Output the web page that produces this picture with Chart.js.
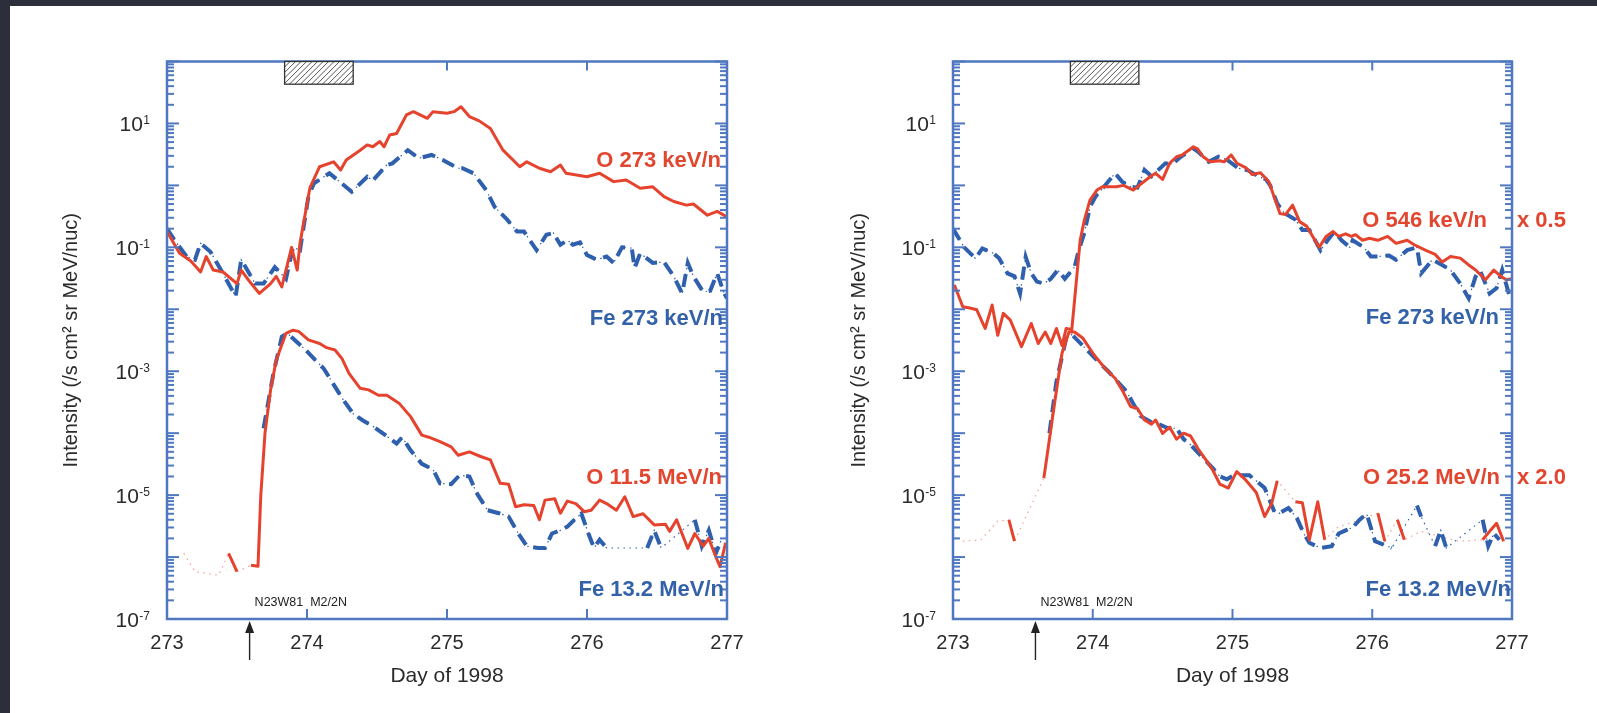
<!DOCTYPE html>
<html><head><meta charset="utf-8">
<script src="https://cdn.jsdelivr.net/npm/chart.js@4.4.1/dist/chart.umd.min.js"></script>
<style>
html,body{margin:0;padding:0;background:#fff;}
body{width:1597px;height:713px;position:relative;overflow:hidden;}
#bandTop{position:absolute;left:0;top:0;width:1597px;height:6px;background:#2c2e3c;}
#bandLeft{position:absolute;left:0;top:0;width:10px;height:713px;background:#2c2e3c;}
#c1{position:absolute;left:0;top:0;}
#c2{position:absolute;left:790px;top:0;}
</style></head>
<body>
<div id="bandTop"></div><div id="bandLeft"></div>
<canvas id="c1" width="790" height="713"></canvas>
<canvas id="c2" width="807" height="713"></canvas>
<script>
// ---------- data ----------
const xTickDays = [273, 274, 275, 276, 277];
const yLabelExps = [1, -1, -3, -5, -7];

// Left panel
const oKeVLeftDays = [273.00,273.09,273.17,273.24,273.28,273.33,273.40,273.50,273.53,273.59,273.66,273.74,273.78,273.82,273.89,273.93,273.95,274.02,274.09,274.19,274.24,274.28,274.38,274.43,274.47,274.52,274.55,274.59,274.64,274.71,274.76,274.86,274.90,275.00,275.05,275.10,275.16,275.23,275.31,275.40,275.52,275.57,275.66,275.74,275.81,275.85,276.00,276.09,276.19,276.28,276.38,276.47,276.55,276.62,276.71,276.76,276.86,276.93,277.00];
const oKeVLeftVals = [0.18,0.08,0.06,0.040,0.071,0.043,0.040,0.026,0.043,0.028,0.018,0.026,0.034,0.023,0.10,0.043,0.116,0.90,2.0,2.4,1.77,2.57,3.7,4.5,4.2,5.1,4.2,6.5,6.9,13.7,15.5,12.1,15.5,14.6,15.5,18.6,12.9,11.0,8.3,3.7,2.0,2.4,1.89,1.66,2.13,1.57,1.38,1.57,1.15,1.22,0.90,0.95,0.66,0.55,0.48,0.50,0.33,0.38,0.31];

const feKeVLeftDays = [273.00,273.07,273.14,273.20,273.24,273.31,273.40,273.49,273.53,273.63,273.69,273.77,273.85,273.90,273.95,274.01,274.05,274.16,274.32,274.43,274.47,274.57,274.61,274.72,274.80,274.89,274.97,275.08,275.11,275.19,275.28,275.34,275.43,275.50,275.55,275.64,275.71,275.76,275.81,275.86,275.90,275.95,276.00,276.07,276.14,276.19,276.25,276.32,276.34,276.38,276.47,276.55,276.62,276.68,276.72,276.76,276.83,276.88,276.93,276.98,277.00];
const feKeVLeftVals = [0.20,0.116,0.071,0.063,0.116,0.085,0.038,0.016,0.063,0.026,0.026,0.048,0.031,0.10,0.090,0.66,1.08,1.57,0.79,1.38,1.2,2.13,2.27,3.7,2.75,3.1,2.57,1.89,1.89,1.57,0.84,0.45,0.28,0.18,0.18,0.090,0.16,0.17,0.11,0.13,0.11,0.12,0.075,0.063,0.071,0.056,0.10,0.097,0.046,0.08,0.056,0.058,0.034,0.018,0.056,0.034,0.019,0.02,0.038,0.018,0.015];

const oMeVLeftDays = [273.44,273.50,273.55,273.60,273.65,273.67,273.70,273.74,273.78,273.85,273.90,273.94,274.01,274.09,274.14,274.20,274.25,274.30,274.38,274.44,274.51,274.57,274.66,274.74,274.82,274.87,274.95,275.03,275.08,275.16,275.24,275.31,275.38,275.44,275.49,275.55,275.62,275.66,275.70,275.77,275.81,275.86,275.92,275.98,276.03,276.09,276.14,276.21,276.27,276.33,276.40,276.48,276.56,276.59,276.64,276.72,276.77,276.83,276.87,276.91,276.95,276.99];
const oMeVLeftVals = [1.15e-6,5.8e-7,null,7.4e-7,7.1e-7,1.0e-5,1.0e-4,5.0e-4,1.5e-3,4.1e-3,4.6e-3,4.4e-3,3.2e-3,2.8e-3,2.4e-3,2.2e-3,1.6e-3,9.2e-4,5.3e-4,5.0e-4,4.1e-4,4.1e-4,3.0e-4,1.85e-4,9.3e-5,8.6e-5,7.3e-5,6.0e-5,4.4e-5,5.0e-5,4.2e-5,3.7e-5,1.55e-5,1.5e-5,6.5e-6,7.0e-6,6.8e-6,4.0e-6,8.3e-6,8.7e-6,5.1e-6,8.0e-6,7.3e-6,5.4e-6,5.7e-6,8.3e-6,7.3e-6,5.7e-6,9.4e-6,4.5e-6,5.0e-6,3.3e-6,3.4e-6,2.6e-6,4.0e-6,1.38e-6,2.4e-6,1.5e-6,2.0e-6,1.15e-6,7.0e-7,1.7e-6];
const oMeVLeftFaintDays = [273.12, 273.20, 273.37];
const oMeVLeftFaintVals = [1.15e-6, 5.8e-7, 5.1e-7];

const feMeVLeftDays = [273.69,273.76,273.82,273.86,273.99,274.12,274.25,274.33,274.40,274.48,274.56,274.64,274.68,274.74,274.82,274.90,274.95,275.03,275.09,275.16,275.21,275.29,275.37,275.44,275.51,275.57,275.65,275.70,275.75,275.81,275.86,275.91,275.96,276.01,276.05,276.09,276.14,276.30,276.43,276.48,276.53,276.65,276.77,276.82,276.87,276.92,276.96];
const feMeVLeftVals = [1.2e-4,9.2e-4,3.6e-3,4.1e-3,2.2e-3,1.1e-3,3.7e-4,2.05e-4,1.6e-4,1.25e-4,9.3e-5,6.8e-5,8.6e-5,5.3e-5,3.2e-5,2.6e-5,1.55e-5,1.5e-5,2.1e-5,2.0e-5,1.1e-5,5.7e-6,5.1e-6,4.5e-6,2.4e-6,1.5e-6,1.4e-6,1.4e-6,2.4e-6,2.7e-6,3.1e-6,4.0e-6,5.0e-6,2.4e-6,1.4e-6,1.9e-6,1.4e-6,null,1.4e-6,2.7e-6,1.4e-6,null,4.0e-6,1.5e-6,2.7e-6,1.15e-6,1.9e-6];

// Right panel
const oKeVRightDays = [273.01,273.07,273.12,273.17,273.23,273.28,273.32,273.36,273.41,273.49,273.56,273.61,273.66,273.70,273.74,273.78,273.81,273.85,273.87,273.91,273.94,273.98,274.03,274.07,274.17,274.22,274.29,274.41,274.45,274.50,274.55,274.60,274.64,274.72,274.75,274.79,274.84,274.91,274.94,274.99,275.03,275.10,275.14,275.20,275.26,275.34,275.38,275.43,275.48,275.53,275.59,275.62,275.67,275.72,275.76,275.81,275.85,275.88,275.93,275.98,276.04,276.11,276.17,276.25,276.30,276.38,276.45,276.50,276.56,276.63,276.69,276.74,276.81,276.87,276.92,276.96,277.00];
const oKeVRightVals = [0.0247,0.011,0.0105,0.0098,0.0049,0.0117,0.0038,0.0086,0.0067,0.0025,0.0059,0.0028,0.0043,0.0028,0.0049,0.0026,0.0049,0.0047,0.014,0.13,0.275,0.58,0.84,0.95,0.95,1.0,0.84,1.38,1.57,1.25,2.27,2.9,3.1,4.2,3.9,2.9,2.4,2.5,2.4,3.1,2.3,1.9,1.5,1.6,1.15,0.35,0.34,0.48,0.26,0.22,0.13,0.10,0.15,0.18,0.15,0.165,0.15,0.16,0.13,0.14,0.13,0.15,0.116,0.13,0.11,0.09,0.077,0.058,0.071,0.067,0.052,0.043,0.030,0.043,0.034,0.030,0.031];

const feKeVRightDays = [273.00,273.02,273.08,273.16,273.21,273.29,273.33,273.39,273.44,273.48,273.52,273.56,273.60,273.65,273.70,273.75,273.80,273.87,273.90,273.94,273.98,274.02,274.06,274.16,274.21,274.27,274.32,274.37,274.42,274.52,274.57,274.63,274.72,274.76,274.83,274.90,274.96,275.04,275.11,275.19,275.24,275.27,275.32,275.37,275.45,275.50,275.55,275.63,275.68,275.73,275.78,275.84,275.86,275.94,275.99,276.04,276.12,276.17,276.25,276.32,276.35,276.43,276.50,276.56,276.63,276.69,276.74,276.77,276.84,276.89,276.93,276.98];
const feKeVRightVals = [0.2,0.168,0.10,0.0665,0.096,0.08,0.0665,0.038,0.034,0.018,0.07,0.038,0.028,0.026,0.031,0.043,0.031,0.048,0.09,0.17,0.45,0.66,0.84,1.57,1.15,0.95,0.92,1.77,1.4,2.27,2.2,2.9,3.96,3.4,2.4,2.9,2.6,1.9,1.75,1.38,1.25,1.0,0.51,0.36,0.28,0.19,0.19,0.09,0.13,0.18,0.13,0.10,0.13,0.10,0.071,0.071,0.074,0.063,0.09,0.10,0.038,0.063,0.052,0.043,0.026,0.015,0.034,0.043,0.018,0.022,0.043,0.017];

const oMeVRightDays = [273.40,273.44,273.55,273.65,273.73,273.78,273.83,273.87,273.93,274.01,274.09,274.16,274.21,274.27,274.32,274.37,274.42,274.45,274.50,274.55,274.60,274.65,274.70,274.76,274.81,274.86,274.91,274.97,275.03,275.09,275.17,275.23,275.28,275.32,275.38,275.45,275.50,275.55,275.61,275.66,275.85,276.04,276.09,276.14,276.18,276.23,276.50,276.79,276.84,276.89,276.94];
const oMeVRightVals = [4.0e-6,1.8e-6,null,1.87e-5,3.4e-4,1.95e-3,4.3e-3,4.3e-3,3.4e-3,1.83e-3,1.1e-3,7.7e-4,5.0e-4,2.7e-4,2.5e-4,1.63e-4,1.4e-4,1.63e-4,9.9e-5,1.25e-4,8.0e-5,1.0e-4,9.0e-5,5.3e-5,3.7e-5,2.5e-5,1.5e-5,1.3e-5,2.4e-5,1.8e-5,1.1e-5,4.5e-6,7.3e-6,1.7e-5,null,7.8e-6,7.5e-6,1.9e-6,7.8e-6,1.9e-6,null,5.1e-6,1.8e-6,null,4.0e-6,1.9e-6,null,1.9e-6,2.6e-6,3.5e-6,1.8e-6];
const oMeVRightFaintDays = [273.07, 273.20, 273.32, 275.75, 276.35, 276.62];
const oMeVRightFaintVals = [1.8e-6, 1.9e-6, 3.8e-6, 3.0e-6, 2.6e-6, 1.8e-6];

const feMeVRightDays = [273.69,273.74,273.81,273.85,273.96,274.03,274.11,274.19,274.24,274.29,274.34,274.42,274.47,274.54,274.60,274.65,274.70,274.78,274.86,274.91,274.96,275.01,275.12,275.17,275.23,275.30,275.33,275.40,275.46,275.51,275.55,275.63,275.71,275.76,275.81,275.86,275.91,275.96,276.02,276.11,276.14,276.25,276.32,276.35,276.40,276.45,276.49,276.53,276.65,276.79,276.83,276.87,276.91];
const feMeVRightVals = [1.0e-4,6.8e-4,3.4e-3,3.9e-3,2.2e-3,1.5e-3,1.0e-3,6.3e-4,4.8e-4,3.0e-4,1.9e-4,1.5e-4,1.4e-4,1.2e-4,1.2e-4,8.0e-5,6.5e-5,4.2e-5,2.7e-5,2.0e-5,1.8e-5,2.1e-5,2.1e-5,1.7e-5,1.3e-5,5.4e-6,5.0e-6,6.2e-6,4.3e-6,2.4e-6,1.7e-6,1.4e-6,1.5e-6,2.4e-6,2.7e-6,3.0e-6,4.0e-6,5.0e-6,1.8e-6,1.5e-6,1.4e-6,null,6.8e-6,4.5e-6,null,1.5e-6,2.7e-6,1.4e-6,null,4.0e-6,1.5e-6,2.4e-6,1.9e-6];

// Annotations
const leftLabelTexts = ['O 273 keV/n', 'Fe 273 keV/n', 'O 11.5 MeV/n', 'Fe 13.2 MeV/n'];
const leftLabelValues = [2.48, 7.0e-3, 1.9e-5, 2.95e-7];
const rightLabelTexts = ['O 546 keV/n', 'Fe 273 keV/n', 'O 25.2 MeV/n', 'Fe 13.2 MeV/n'];
const rightLabelValues = [0.266, 7.2e-3, 1.9e-5, 2.95e-7];
const rightFactorTexts = ['x 0.5', '', 'x 2.0', ''];
const hatchDays = [273.84, 274.33];
const hatchBottomValue = 43;
const eventDay = 273.59;
const eventText = 'N23W81  M2/2N';

// ---------- styling ----------
const FONT = "'Liberation Sans', Arial, Helvetica, sans-serif";
const RED = '#e5432d', BLUE = '#2f60ad', AXIS = '#4f78c0', TEXT = '#2b2b2b';
const LABEL_RED = '#e2462f', LABEL_BLUE = '#3462a9';

function pts(days, vals) { return days.map((d, i) => ({ x: d, y: vals[i] })); }
function thinPts(days, vals, fd, fv) {
  const p = pts(days, vals).filter(q => q.y !== null);
  if (fd) fd.forEach((d, i) => p.push({ x: d, y: fv[i] }));
  return p.sort((a, b) => a.x - b.x);
}
function solidSet(data) { return { data, borderColor: RED, borderWidth: 3, spanGaps: false, order: 0, borderJoinStyle: 'round' }; }
function dashSet(data) { return { data, borderColor: BLUE, borderWidth: 4, borderDash: [13, 8], spanGaps: false, order: 1 }; }
function faintSet(data, color) { return { data, borderColor: color, borderWidth: 1.2, borderDash: [1.5, 4.5], spanGaps: true, order: 2 }; }

const decor = {
  id: 'decor',
  afterDraw(chart, args, o) {
    const { ctx, chartArea: a, scales: { x, y } } = chart;
    ctx.save();
    const seg = (x1, y1, x2, y2) => { ctx.beginPath(); ctx.moveTo(x1, y1); ctx.lineTo(x2, y2); ctx.stroke(); };

    // frame
    ctx.strokeStyle = AXIS; ctx.lineWidth = 2.5;
    ctx.strokeRect(a.left, a.top, a.right - a.left, a.bottom - a.top);
    // inward ticks
    ctx.lineWidth = 2;
    for (const t of y.ticks) {
      const py = y.getPixelForValue(t.value);
      const len = t.major ? 12 : 7;
      seg(a.left, py, a.left + len, py);
      seg(a.right, py, a.right - len, py);
    }
    for (const d of xTickDays) {
      if (d <= x.min || d >= x.max) continue;
      const px = x.getPixelForValue(d);
      seg(px, a.top, px, a.top + 9);
      seg(px, a.bottom, px, a.bottom - 10);
    }

    // hatched box (covers the top tick)
    const hx1 = x.getPixelForValue(hatchDays[0]), hx2 = x.getPixelForValue(hatchDays[1]);
    const hy1 = a.top, hy2 = y.getPixelForValue(hatchBottomValue);
    const hh = hy2 - hy1;
    ctx.fillStyle = '#fff'; ctx.fillRect(hx1, hy1, hx2 - hx1, hh);
    ctx.save(); ctx.beginPath(); ctx.rect(hx1, hy1, hx2 - hx1, hh); ctx.clip();
    ctx.strokeStyle = '#555'; ctx.lineWidth = 1;
    for (let k = hx1 - hh; k < hx2 + 6; k += 5.5) seg(k, hy2, k + hh, hy1);
    ctx.restore();
    ctx.strokeStyle = '#333'; ctx.lineWidth = 1.3; ctx.strokeRect(hx1, hy1, hx2 - hx1, hh);

    // y labels with superscript exponent
    ctx.fillStyle = TEXT;
    for (const e of yLabelExps) {
      const py = y.getPixelForValue(Math.pow(10, e));
      const xr = a.left - 17;
      ctx.font = '12px ' + FONT;
      const es = String(e); const ew = ctx.measureText(es).width;
      ctx.textAlign = 'left'; ctx.textBaseline = 'alphabetic';
      ctx.fillText(es, xr - ew, py + 1);
      ctx.font = '21px ' + FONT; ctx.textAlign = 'right';
      ctx.fillText('10', xr - ew - 0.5, py + 7.5);
    }
    // series labels
    ctx.font = 'bold 22px ' + FONT; ctx.textBaseline = 'middle';
    o.texts.forEach((t, i) => {
      ctx.fillStyle = i % 2 === 0 ? LABEL_RED : LABEL_BLUE;
      ctx.textAlign = 'right';
      ctx.fillText(t, a.right + o.dx[i], y.getPixelForValue(o.values[i]));
      if (o.factors && o.factors[i]) {
        ctx.textAlign = 'left';
        ctx.fillText(o.factors[i], a.right + 5, y.getPixelForValue(o.values[i]));
      }
    });
    // event marker
    const ex = x.getPixelForValue(eventDay);
    ctx.fillStyle = '#222'; ctx.font = '12.5px ' + FONT; ctx.textAlign = 'left'; ctx.textBaseline = 'alphabetic';
    ctx.fillText(eventText, ex + 5, a.bottom - 13);
    ctx.strokeStyle = '#222'; ctx.lineWidth = 1.4;
    seg(ex, a.bottom + 10, ex, a.bottom + 41);
    ctx.beginPath(); ctx.moveTo(ex, a.bottom + 2); ctx.lineTo(ex - 4.5, a.bottom + 14); ctx.lineTo(ex + 4.5, a.bottom + 14); ctx.closePath(); ctx.fill();
    ctx.restore();
  }
};

function makeChart(id, datasets, g, decorOpts) {
  return new Chart(document.getElementById(id), {
    type: 'line',
    data: { datasets },
    plugins: [decor],
    options: {
      responsive: false, animation: false, events: [],
      layout: { padding: { left: 0, right: g.padRight, top: 61.5, bottom: 0 } },
      elements: { point: { radius: 0 }, line: { tension: 0 } },
      plugins: { legend: { display: false }, tooltip: { enabled: false }, decor: decorOpts },
      scales: {
        x: {
          type: 'linear', min: 273, max: 277,
          afterBuildTicks: s => { s.ticks = xTickDays.map(v => ({ value: v })); },
          ticks: { color: TEXT, font: { family: FONT, size: 20 }, padding: 12, maxRotation: 0, autoSkip: false,
                   callback: v => String(v) },
          grid: { display: false, drawTicks: false },
          border: { display: false },
          title: { display: true, text: 'Day of 1998', color: TEXT, font: { family: FONT, size: 21 }, padding: { top: 0, bottom: 24 } },
          afterFit: s => { s.height = 94; s.paddingLeft = 0; s.paddingRight = 0; }
        },
        y: {
          type: 'logarithmic', min: 1e-7, max: 1e2,
          afterBuildTicks: s => {
            const t = [];
            for (let e = -7; e <= 2; e++) for (let m = 1; m <= 9; m++) {
              const v = m * Math.pow(10, e);
              if (v <= 100.0001) t.push({ value: v, major: m === 1 });
            }
            s.ticks = t;
          },
          ticks: { display: false },
          grid: { display: false, drawTicks: false },
          border: { display: false },
          title: { display: true, text: 'Intensity (/s cm² sr MeV/nuc)', color: TEXT, font: { family: FONT, size: 20 }, padding: { top: g.titlePad, bottom: 0 } },
          afterFit: s => { s.width = g.yWidth; s.paddingTop = 0; s.paddingBottom = 0; }
        }
      }
    }
  });
}

makeChart('c1', [
  solidSet(pts(oKeVLeftDays, oKeVLeftVals)),
  solidSet(pts(oMeVLeftDays, oMeVLeftVals)),
  dashSet(pts(feKeVLeftDays, feKeVLeftVals)),
  dashSet(pts(feMeVLeftDays, feMeVLeftVals)),
  faintSet(thinPts(feKeVLeftDays, feKeVLeftVals), BLUE),
  faintSet(thinPts(feMeVLeftDays, feMeVLeftVals), BLUE),
  faintSet(thinPts(oMeVLeftDays, oMeVLeftVals, oMeVLeftFaintDays, oMeVLeftFaintVals), 'rgba(229,67,45,0.5)')
], { padRight: 63, yWidth: 167, titlePad: 59 },
{ texts: leftLabelTexts, values: leftLabelValues, dx: [-6, -4, -5, -3] });

makeChart('c2', [
  solidSet(pts(oKeVRightDays, oKeVRightVals)),
  solidSet(pts(oMeVRightDays, oMeVRightVals)),
  dashSet(pts(feKeVRightDays, feKeVRightVals)),
  dashSet(pts(feMeVRightDays, feMeVRightVals)),
  faintSet(thinPts(feKeVRightDays, feKeVRightVals), BLUE),
  faintSet(thinPts(feMeVRightDays, feMeVRightVals), BLUE),
  faintSet(thinPts(oMeVRightDays, oMeVRightVals, oMeVRightFaintDays, oMeVRightFaintVals), 'rgba(229,67,45,0.5)')
], { padRight: 85, yWidth: 163, titlePad: 57 },
{ texts: rightLabelTexts, values: rightLabelValues, dx: [-25, -13, -12, -1], factors: rightFactorTexts });
</script>
</body></html>
